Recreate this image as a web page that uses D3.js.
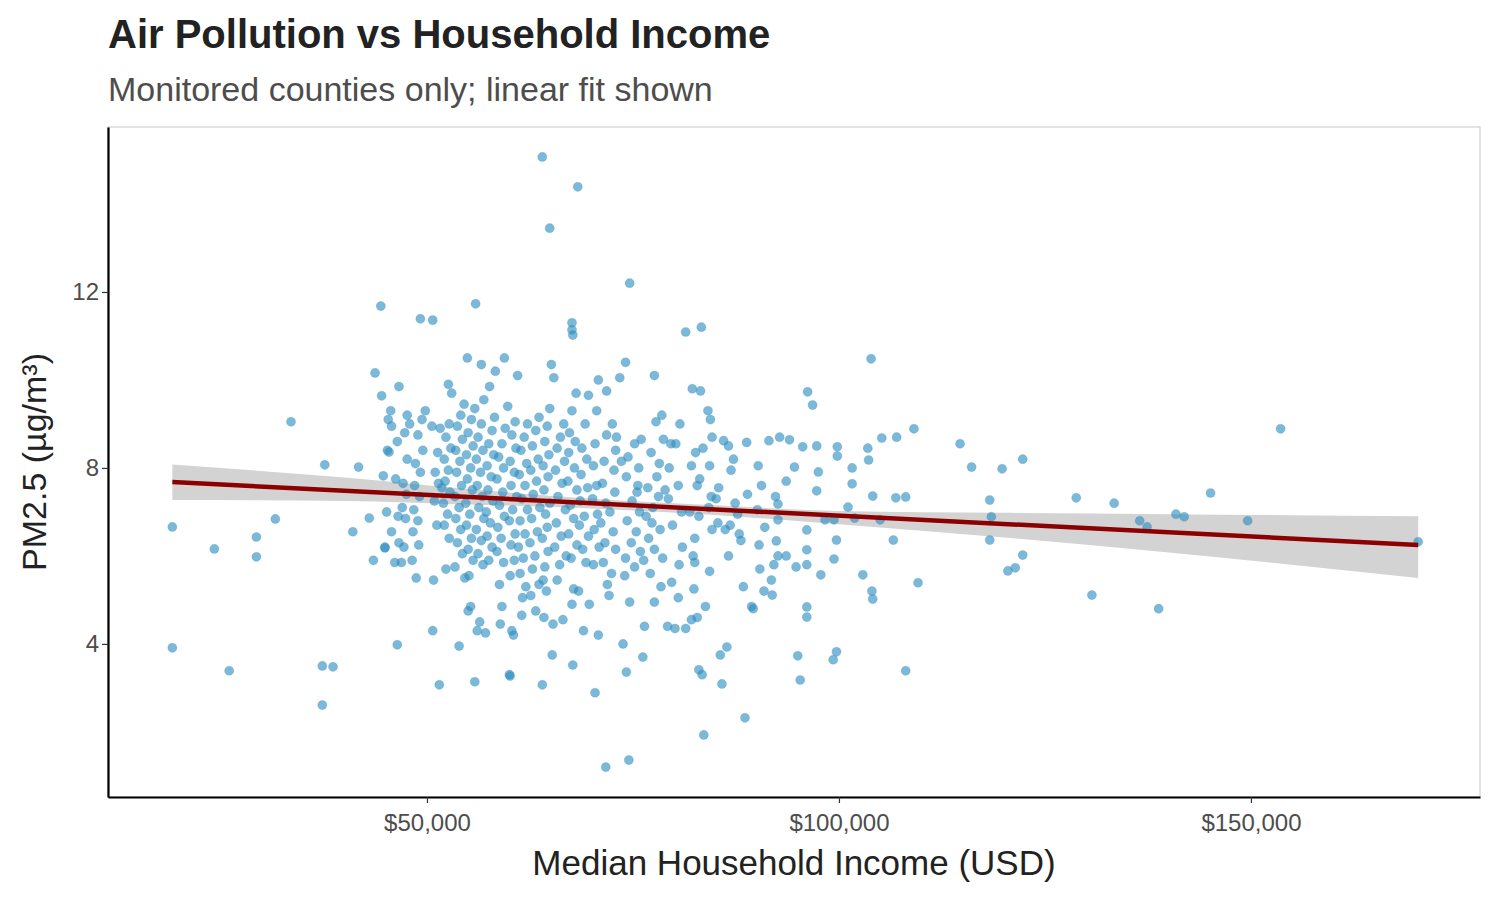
<!DOCTYPE html>
<html><head><meta charset="utf-8">
<script src="https://cdn.jsdelivr.net/npm/d3@7"></script>
<style>body{margin:0;background:#fff;font-family:Arial,"Liberation Sans",sans-serif}</style>
</head><body><svg id="c" width="1500" height="900"></svg>
<script>
// [income (thousand USD), PM2.5]
const points = [
[19.1,6.66],[19.1,3.91],[24.2,6.16],[26.0,3.39],[29.3,6.43],[29.3,5.98],[31.6,6.84],[33.5,9.05],[37.3,3.50],[37.6,8.07],[38.6,3.48],[37.3,2.61],
[41.0,6.55],[41.7,8.02],[43.0,6.86],[43.5,5.9],[43.7,10.16],[44.4,11.68],[44.5,9.64],[44.7,7.82],[45.4,8.36],[44.9,6.18],[46.4,3.98],
[49.2,11.39],[50.7,11.36],[51.5,3.07],[50.7,4.3],[55.8,3.14],[55.9,11.73],[60.0,3.3],[60.1,3.27],[64.0,15.07],[68.3,14.39],[64.9,13.45],
[74.6,12.2],[67.6,11.3],[67.6,11.14],[67.7,11.02],[81.4,11.09],[83.3,11.2],[103.9,10.48],[64.0,3.07],[67.7,3.52],[70.4,2.89],[71.7,1.2],[74.5,1.36],
[83.6,1.93],[88.6,2.32],[74.2,3.36],[76.2,3.7],[83.0,3.41],[83.4,3.3],[85.8,3.09],[86.4,3.93],[85.6,3.75],[95.0,3.73],[95.3,3.18],[99.3,3.64],[99.7,3.82],
[108.1,3.39],[109.6,5.39],[109.1,8.89],[104.0,5.2],[104.1,5.02],[102.9,5.57],[114.7,8.55],[116.1,8.02],[118.3,7.27],[118.5,6.89],[118.3,6.36],
[119.8,7.98],[120.5,5.66],[121.4,5.73],[122.3,8.2],[122.3,6.02],[128.8,7.32],[130.7,5.11],[133.4,7.2],[136.5,6.8],[137.4,6.66],[138.8,4.8],
[140.9,6.95],[141.9,6.89],[145.1,7.43],[149.6,6.8],[153.6,8.89],[170.3,6.32],
[106.9,7.32],[108.1,7.34],[106.6,6.36],[105.0,6.82],[104.1,7.36],[103.6,8.18],[103.5,8.45],[105.2,8.68],[107.0,8.7],
[101.6,8.0],[101.6,7.64],[99.8,8.48],[99.8,8.27],[101.1,7.11],[101.9,6.86],[99.4,6.82],[99.7,6.36],[99.4,5.93],[97.8,5.57],
[96.2,9.73],[96.8,9.43],[97.3,8.5],[97.5,7.91],[97.3,7.48],[98.3,6.82],[96.1,6.59],[96.1,6.14],[96.1,5.8],[96.1,4.84],[96.1,4.61],
[94.0,8.64],[95.6,8.48],[94.6,8.02],[93.6,7.7],[92.6,7.18],[92.6,6.82],[92.3,7.35],[92.4,6.34],[92.6,6.0],[93.6,6.0],[94.8,5.75],[92.1,5.8],[91.9,5.11],[91.8,5.45],
[92.8,8.7],[91.5,8.62],[90.2,8.05],[90.6,7.6],[90.1,7.05],[91.0,6.65],[90.3,6.25],[90.4,5.7],[89.4,4.85],[89.6,4.8],[88.4,5.3],[90.9,5.2],[88.8,8.58],[88.9,7.4],
[87.2,8.2],[86.6,8.5],[86.9,7.95],[87.4,7.2],[87.7,6.95],[86.8,6.7],[87.9,6.5],[86.2,6.6],[86.0,8.62],[85.4,7.55],[86.6,6.0],[88.1,6.35],
[84.1,9.3],[84.4,9.1],[83.2,9.75],[82.2,9.8],[84.6,8.7],[83.5,8.45],[82.6,8.35],[84.3,8.05],[82.1,8.05],[83.1,7.75],[84.5,7.35],[84.2,7.1],[82.8,7.6],
[83.0,6.9],[84.6,6.6],[82.5,6.4],[82.3,6.0],[82.5,5.85],[84.3,5.65],[82.4,5.25],[83.8,4.85],[82.8,4.6],[82.1,4.55],[85.1,7.3],[85.3,6.75],[81.9,7.0],
[80.7,9.0],[80.2,8.55],[79.6,8.55],[79.4,8.0],[80.5,7.6],[79.3,7.3],[80.9,7.0],[79.8,6.7],[81.0,6.2],[80.6,5.8],[79.7,5.4],[80.5,5.05],[81.4,4.35],[80.1,4.35],
[78.5,9.2],[77.8,9.05],[77.6,10.1],[78.7,8.65],[77.2,8.35],[78.2,8.1],[77.9,7.8],[76.8,7.55],[78.1,7.35],[77.4,7.1],[76.6,6.9],[78.3,6.6],[76.9,6.4],[77.6,6.15],
[78.6,5.95],[77.1,5.6],[78.4,5.3],[77.6,4.95],[76.4,4.4],[79.2,4.4],[77.3,6.75],[78.9,7.5],
[76.0,8.65],[75.2,8.55],[74.4,8.25],[75.7,8.0],[74.2,7.8],[75.6,7.6],[74.9,7.25],[75.8,7.0],[74.3,6.8],[75.4,6.55],[74.8,6.3],[75.9,6.1],[74.1,5.95],[75.2,5.75],
[74.0,5.55],[76.3,5.9],[74.6,4.95],[73.8,4.0],[73.4,10.05],[74.1,10.4],[75.5,7.45],[73.6,8.15],[73.0,8.7],
[72.5,9.0],[71.8,8.75],[72.9,8.4],[71.5,8.15],[72.7,7.95],[71.3,7.65],[72.8,7.45],[71.7,7.2],[72.2,7.0],[71.1,6.75],[72.6,6.55],[71.6,6.3],[72.9,6.15],[71.4,5.85],
[72.4,5.6],[71.9,5.35],[72.1,5.1],[70.8,4.2],[70.8,10.0],[71.8,9.75],[70.6,9.3],[70.4,8.55],[70.2,8.05],[70.6,7.6],[70.1,7.3],[70.7,6.95],[70.3,6.6],[70.9,6.2],[70.2,5.8],
[69.6,9.65],[69.2,9.0],[68.8,8.45],[69.4,8.2],[68.7,7.85],[69.5,7.55],[68.6,7.25],[69.1,6.9],[68.5,6.7],[69.6,6.45],[68.9,6.15],[69.3,5.85],[68.4,5.2],[69.7,4.9],[69.0,4.3],
[68.1,9.7],[67.6,9.3],[67.3,8.8],[68.0,8.6],[67.2,8.35],[67.9,8.0],[67.1,7.7],[68.2,7.5],[67.4,7.15],[67.8,6.85],[67.2,6.5],[68.2,6.25],[67.5,5.95],[67.8,5.25],[67.6,4.9],
[66.6,9.0],[66.2,8.7],[65.8,8.45],[66.7,8.15],[65.6,7.95],[66.4,7.65],[65.9,7.35],[66.8,7.05],[65.7,6.75],[66.3,6.45],[65.5,6.2],[66.9,6.0],[66.1,5.8],[65.8,5.45],[66.5,4.55],[65.3,4.45],[65.2,3.75],
[65.1,10.35],[65.4,10.05],[64.9,9.35],[64.6,8.95],[64.3,8.6],[64.8,8.3],[64.1,8.05],[64.7,7.8],[64.2,7.5],[64.9,7.2],[64.4,6.95],[64.6,6.65],[64.0,6.4],[64.7,6.1],[64.3,5.75],[64.1,5.45],[64.5,5.2],[64.2,4.6],
[63.6,9.15],[63.2,8.85],[62.8,8.5],[63.5,8.2],[62.6,7.95],[63.3,7.7],[62.9,7.4],[63.7,7.1],[62.7,6.85],[63.4,6.55],[62.5,6.3],[63.1,6.0],[62.8,5.7],[63.6,5.35],[62.6,5.1],[63.2,4.75],
[62.2,9.0],[61.8,8.7],[61.4,8.4],[62.1,8.1],[61.2,7.85],[61.9,7.6],[61.5,7.3],[62.2,7.05],[61.3,6.8],[61.9,6.5],[61.1,6.2],[61.7,5.95],[61.3,5.6],[62.0,5.3],[61.6,5.05],[61.5,4.65],[61.0,10.1],
[60.7,9.05],[60.3,8.75],[60.8,8.45],[60.1,8.15],[60.6,7.9],[60.2,7.6],[60.9,7.35],[60.4,7.05],[60.0,6.8],[60.7,6.5],[60.2,6.25],[60.6,5.9],[60.1,5.55],[60.5,4.2],[60.3,4.3],[59.8,9.4],[59.4,10.5],
[59.5,8.9],[59.1,8.55],[58.7,8.25],[59.3,8.0],[58.5,7.75],[59.2,7.45],[58.8,7.15],[59.4,6.9],[58.6,6.65],[59.0,6.4],[58.5,6.1],[59.3,5.85],[58.8,5.35],[59.1,4.85],[58.9,4.45],
[58.2,9.15],[57.9,8.85],[57.5,8.55],[58.1,8.3],[57.3,8.05],[57.8,7.8],[57.4,7.5],[58.0,7.25],[57.2,7.0],[57.7,6.75],[57.3,6.45],[57.9,6.2],[57.5,5.9],[57.1,4.25],[58.3,10.2],[57.6,9.85],
[56.9,9.55],[56.6,9.0],[56.2,8.7],[56.8,8.4],[56.0,8.2],[56.5,7.9],[56.1,7.6],[56.7,7.35],[56.3,7.1],[56.9,6.85],[56.0,6.6],[56.6,6.35],[56.2,6.05],[56.8,5.8],[56.4,4.5],[56.1,4.3],[56.6,10.35],
[55.8,9.35],[55.4,9.1],[55.0,8.8],[55.6,8.5],[54.8,8.3],[55.3,8.0],[54.9,7.75],[55.5,7.5],[54.7,7.2],[55.2,6.95],[54.8,6.7],[55.4,6.4],[55.0,6.15],[55.6,5.9],[55.1,5.55],[55.3,4.85],[55.0,4.75],[54.9,10.5],
[54.5,9.45],[54.1,9.2],[53.7,8.95],[54.3,8.65],[53.5,8.4],[54.0,8.15],[53.6,7.9],[54.2,7.6],[53.4,7.35],[53.9,7.1],[53.5,6.85],[54.1,6.6],[53.7,6.3],[54.3,6.05],[53.4,5.75],[53.9,3.95],[54.6,5.5],
[53.0,9.7],[52.6,9.9],[52.7,9.0],[52.3,8.7],[52.9,8.45],[52.1,8.2],[52.6,7.95],[52.2,7.7],[52.8,7.45],[52.0,7.2],[52.5,6.95],[52.1,6.7],[52.7,6.4],[52.3,5.7],[51.6,8.9],[51.8,7.55],
[51.3,8.35],[51.0,7.9],[51.4,7.65],[50.9,7.25],[51.2,6.7],[50.8,5.45],[50.6,8.95],
[49.8,9.3],[49.4,9.1],[48.9,8.75],[49.5,8.4],[48.6,8.1],[49.2,7.9],[48.5,7.6],[49.1,7.35],[48.4,7.05],[48.9,6.8],[48.3,6.55],[49.0,6.25],[48.2,5.9],[48.7,5.5],[47.9,9.0],
[47.6,9.2],[47.3,8.8],[47.6,8.2],[47.1,7.65],[47.5,7.4],[47.0,7.1],[47.4,6.85],[47.2,6.2],[46.9,5.85],[46.6,9.85],[46.4,8.6],[46.2,7.75],[46.5,6.9],[46.6,6.3],[46.1,5.85],
[45.6,9.3],[45.3,9.1],[45.7,8.95],[45.2,8.4],[45.7,6.55],[45.1,7.0],[44.9,6.2]
];
const fitX = [19.1, 170.3];
const fitY = [7.68, 6.25];
const bandX = [19.1, 40, 55, 70, 85, 100, 120, 140, 170.3];
const bandLo = [7.27, 7.25, 7.17, 7.08, 6.93, 6.72, 6.42, 6.08, 5.50];
const bandHi = [8.08, 7.78, 7.52, 7.30, 7.15, 7.02, 6.98, 6.95, 6.90];
const xTicks = [50, 100, 150];
const yTicks = [4, 8, 12];

const svg = d3.select("#c");
const L=108,R=1480,T=127,B=797;
const x = d3.scaleLinear().domain([11.29,177.8]).range([L,R]);
const y = d3.scaleLinear().domain([0.52,15.75]).range([B,T]);

svg.append("rect").attr("x",L).attr("y",T).attr("width",R-L).attr("height",B-T).attr("fill","none").attr("stroke","#d0d0d0").attr("stroke-width",1.2);

const band = bandX.map((v,i)=>({x:v,lo:bandLo[i],hi:bandHi[i]}));
svg.append("path").datum(band).attr("fill","#d3d3d3")
 .attr("d",d3.area().x(d=>x(d.x)).y0(d=>y(d.lo)).y1(d=>y(d.hi)).curve(d3.curveMonotoneX));

svg.append("g").selectAll("circle").data(points).join("circle")
 .attr("cx",d=>x(d[0])).attr("cy",d=>y(d[1])).attr("r",4.6)
 .attr("fill","#2b8cbe").attr("fill-opacity",0.62).attr("stroke","#2b8cbe").attr("stroke-opacity",0.4).attr("stroke-width",0.5);

svg.append("line").attr("x1",x(fitX[0])).attr("y1",y(fitY[0])).attr("x2",x(fitX[1])).attr("y2",y(fitY[1]))
 .attr("stroke","#8b0000").attr("stroke-width",4.5);

const xa = svg.append("g").attr("transform",`translate(0,${B})`)
 .call(d3.axisBottom(x).tickValues(xTicks).tickSize(6).tickSizeOuter(0).tickFormat(d=>"$"+d3.format(",")(d*1000)));
const ya = svg.append("g").attr("transform",`translate(${L},0)`)
 .call(d3.axisLeft(y).tickValues(yTicks).tickSize(6).tickSizeOuter(0));
[xa,ya].forEach(a=>{
 a.select(".domain").attr("stroke","#000").attr("stroke-width",2.2);
 a.selectAll(".tick line").attr("stroke","#333").attr("stroke-width",1.2);
 a.selectAll("text").attr("font-size",24).attr("fill","#4d4d4d").attr("font-family","Arial,'Liberation Sans',sans-serif");
});
xa.selectAll("text").attr("dy","1.05em");

svg.append("text").attr("x",108).attr("y",48).attr("font-size",40).attr("font-weight","bold").attr("fill","#222").text("Air Pollution vs Household Income");
svg.append("text").attr("x",108).attr("y",101).attr("font-size",34).attr("fill","#4d4d4d").text("Monitored counties only; linear fit shown");
svg.append("text").attr("x",(L+R)/2).attr("y",875).attr("text-anchor","middle").attr("font-size",35).attr("fill","#222").text("Median Household Income (USD)");
svg.append("text").attr("transform",`translate(46,${(T+B)/2}) rotate(-90)`).attr("text-anchor","middle").attr("font-size",34).attr("fill","#222").text("PM2.5 (µg/m³)");
</script></body></html>
